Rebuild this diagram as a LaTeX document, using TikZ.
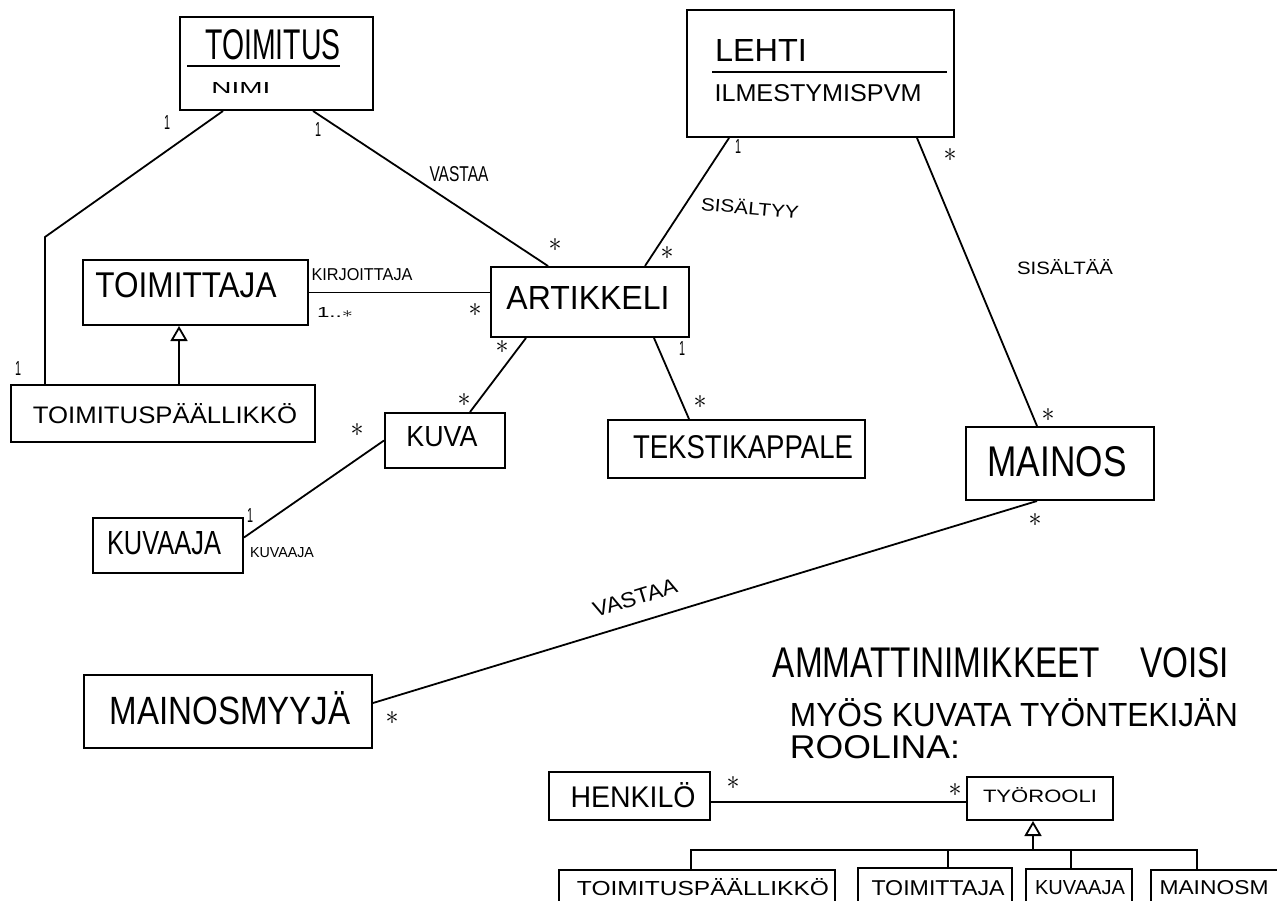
\documentclass[tikz,border=0pt]{standalone}
\usepackage{fontspec}
\setmainfont{Liberation Sans}
\usepackage{graphicx}
\usetikzlibrary{arrows.meta,calc}
\newcommand{\hwfit}[3]{\resizebox{#1pt}{#2pt}{#3}}
\newcommand{\hwstar}{\hwfit{13}{13}{$\ast$}}
\newcommand{\hwone}{\hwfit{6}{14}{1}}
\tikzset{
  box/.style={draw, line width=2pt, inner sep=0pt},
  conn/.style={line width=1.8pt},
  divline/.style={line width=1.8pt},
  gen/.style={line width=1.8pt, -{Triangle[open,length=15pt,width=17pt,line width=1.8pt]}},
  lbl/.style={inner sep=0pt},
}
\begin{document}
\begin{tikzpicture}[x=1pt,y=-1pt]
\useasboundingbox (0,0) rectangle (1277,901);
\clip (0,0) rectangle (1277,901);
\fill[white] (0,0) rectangle (1277,901);

% ---------- boxes ----------
\node[box, minimum width=193pt, minimum height=93pt] (toimitus) at (276.5,63.5) {};
\node[box, minimum width=267pt, minimum height=127pt] (lehti) at (820.5,73.5) {};
\node[box, minimum width=225pt, minimum height=65pt] (toimittaja) at (195.5,292.5) {};
\node[box, minimum width=198pt, minimum height=70pt] (artikkeli) at (590,302) {};
\node[box, minimum width=304pt, minimum height=57pt] (tpk) at (163,413.5) {};
\node[box, minimum width=120pt, minimum height=55pt] (kuva) at (445,440.5) {};
\node[box, minimum width=257pt, minimum height=58pt] (teksti) at (736.5,449) {};
\node[box, minimum width=188pt, minimum height=73pt] (mainos) at (1060,463.5) {};
\node[box, minimum width=150pt, minimum height=55pt] (kuvaaja) at (168,545.5) {};
\node[box, minimum width=288pt, minimum height=73pt] (myyja) at (228,711.5) {};
\node[box, minimum width=161pt, minimum height=48pt] (henkilo) at (629.5,796) {};
\node[box, minimum width=146pt, minimum height=43pt] (tyorooli) at (1040,798.5) {};
\node[box, minimum width=276pt, minimum height=50pt] (b1) at (697,895) {};
\node[box, minimum width=154pt, minimum height=50pt] (b2) at (935,893) {};
\node[box, minimum width=106pt, minimum height=50pt] (b3) at (1079,894) {};
\node[box, minimum width=178pt, minimum height=50pt] (b4) at (1240,895) {};

% compartment lines
\draw[divline] ($(toimitus.north west)+(8,50)$) -- ($(toimitus.north east)+(-34,50)$);
\draw[divline] ($(lehti.north west)+(26,63)$) -- ($(lehti.north east)+(-8,63)$);

% ---------- texts in boxes ----------
\node[lbl] (t1) at (273,45) {\hwfit{135}{30}{TOIMITUS}};
\node[lbl] (t2) at (241,88) {\hwfit{59}{11}{NIMI}};
\node[lbl] (t3) at (761,51) {\hwfit{92}{22}{LEHTI}};
\node[lbl] (t4) at (818,93) {\hwfit{207}{17}{ILMESTYMISPVM}};
\node[lbl] (t5) at (186,285) {\hwfit{181}{25}{TOIMITTAJA}};
\node[lbl] (t6) at (588,298) {\hwfit{163}{23}{ARTIKKELI}};
\node[lbl] (t7) at (165,414) {\hwfit{264}{20}{TOIMITUSPÄÄLLIKKÖ}};
\node[lbl] (t8) at (442,437) {\hwfit{71}{20}{KUVA}};
\node[lbl] (t9) at (743,447) {\hwfit{220}{23}{TEKSTIKAPPALE}};
\node[lbl] (t10) at (1057,462) {\hwfit{139}{30}{MAINOS}};
\node[lbl] (t11) at (164,543) {\hwfit{114}{23}{KUVAAJA}};
\node[lbl] (t12) at (230,708.5) {\hwfit{241}{33}{MAINOSMYYJÄ}};
\node[lbl] (t13) at (633,795) {\hwfit{125}{25}{HENKILÖ}};
\node[lbl] (t14) at (1040,795) {\hwfit{114}{15}{TYÖROOLI}};
\node[lbl] (t15) at (703,887) {\hwfit{252}{17}{TOIMITUSPÄÄLLIKKÖ}};
\node[lbl] (t16) at (938,888) {\hwfit{133}{15}{TOIMITTAJA}};
\node[lbl] (t17) at (1080,888) {\hwfit{90}{14}{KUVAAJA}};
\node[lbl] (t18) at (1214,888) {\hwfit{109}{14}{MAINOSM}};

% ---------- note ----------
\node[lbl] (n1) at (1001,663) {\hwfit{456}{30}{AMMATTINIMIKKEET\hspace{1.2em}VOISI}};
\node[lbl] (n2) at (1014,713) {\hwfit{448}{28}{MYÖS KUVATA TYÖNTEKIJÄN}};
\node[lbl] (n3) at (875,747) {\hwfit{170}{23}{ROOLINA:}};

% ---------- connectors ----------
\coordinate (bend) at (45,237);
\draw[conn] ([xshift=44pt]toimitus.south west) -- (bend) -- (bend |- tpk.north);
\draw[conn] ([xshift=134pt]toimitus.south west) -- ([xshift=58pt]artikkeli.north west);
\draw[conn] (toimittaja.east) -- (toimittaja.east -| artikkeli.west);
\coordinate (g1) at ([xshift=-16.5pt]toimittaja.south);
\draw[gen] (g1 |- tpk.north) -- (g1);
\draw[conn] ([xshift=36pt]artikkeli.south west) -- ([xshift=86pt]kuva.north west);
\draw[conn] ([xshift=164pt]artikkeli.south west) -- ([xshift=82pt]teksti.north west);
\draw[conn] (kuva.west) -- ([yshift=8pt]kuvaaja.east);
\draw[conn] ([xshift=43pt]lehti.south west) -- ([xshift=155pt]artikkeli.north west);
\draw[conn] ([xshift=231pt]lehti.south west) -- ([xshift=72pt]mainos.north west);
\draw[conn] ([xshift=72pt]mainos.south west) -- ([yshift=8.5pt]myyja.east);
\coordinate (h1) at ([yshift=-6pt]henkilo.east);
\draw[conn] (h1) -- (h1 -| tyorooli.west);

% generalization under TYOROOLI
\coordinate (busy) at (0,850);
\coordinate (d1) at ([xshift=-6pt]b1.north);
\coordinate (d2) at ([xshift=13pt]b2.north);
\coordinate (d3) at ([xshift=-8pt]b3.north);
\coordinate (d4) at ([xshift=47pt]b4.north west);
\coordinate (g2) at ([xshift=-7pt]tyorooli.south);
\draw[gen] (g2 |- busy) -- (g2);
\draw[conn] (d1) -- (d1 |- busy) -- (d4 |- busy) -- (d4);
\draw[conn] (d2) -- (d2 |- busy);
\draw[conn] (d3) -- (d3 |- busy);

% ---------- association labels ----------
\node[lbl] (a1) at (459,174) {\hwfit{59}{15}{VASTAA}};
\node[lbl] (a2) at (362,275) {\hwfit{101}{12}{KIRJOITTAJA}};
\node[lbl] (a3) at (335,312) {\hwfit{36}{10}{1..$\ast$}};
\node[lbl, rotate=-5] (a4) at (750,207) {\hwfit{98}{15}{SISÄLTYY}};
\node[lbl] (a5) at (1065,267) {\hwfit{96}{15}{SISÄLTÄÄ}};
\node[lbl] (a6) at (282,553) {\hwfit{64}{10}{KUVAAJA}};
\node[lbl, rotate=17] (a7) at (635,598) {\hwfit{87}{15}{VASTAA}};

% ---------- multiplicities ----------
\node[lbl] (m1) at (167,123) {\hwone};
\node[lbl] (m2) at (318,130) {\hwone};
\node[lbl] (m3) at (555,245) {\hwstar};
\node[lbl] (m4) at (18,368) {\hwone};
\node[lbl] (m5) at (475,310) {\hwstar};
\node[lbl] (m6) at (502,347) {\hwstar};
\node[lbl] (m7) at (464,400) {\hwstar};
\node[lbl] (m8) at (357,430) {\hwstar};
\node[lbl] (m9) at (250,515) {\hwone};
\node[lbl] (m10) at (738,147) {\hwone};
\node[lbl] (m11) at (667,253) {\hwstar};
\node[lbl] (m12) at (950,155) {\hwstar};
\node[lbl] (m13) at (1048,415) {\hwstar};
\node[lbl] (m14) at (682,348) {\hwone};
\node[lbl] (m15) at (700,402) {\hwstar};
\node[lbl] (m16) at (1035,520) {\hwstar};
\node[lbl] (m17) at (392,718) {\hwstar};
\node[lbl] (m18) at (733,783) {\hwstar};
\node[lbl] (m19) at (955,790) {\hwstar};
\end{tikzpicture}
\end{document}
